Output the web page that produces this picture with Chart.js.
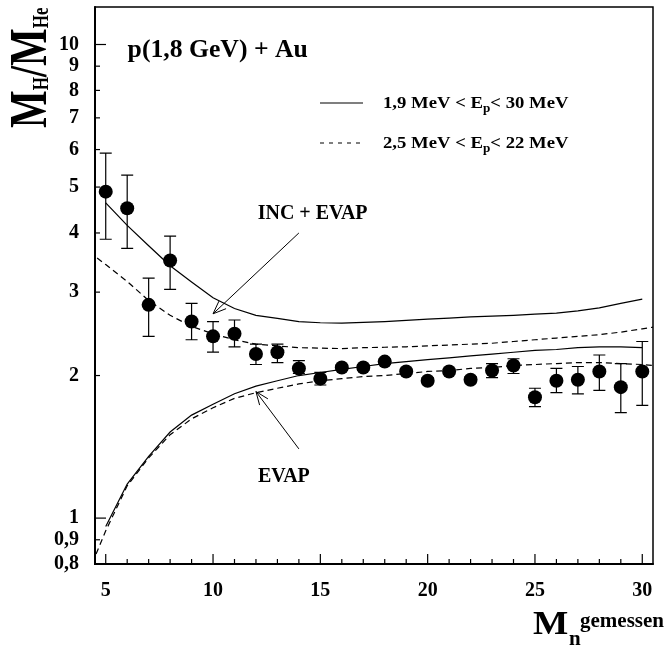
<!DOCTYPE html>
<html>
<head>
<meta charset="utf-8">
<script src="https://cdn.jsdelivr.net/npm/chart.js@4/dist/chart.umd.min.js"></script>
<style>
html,body{margin:0;padding:0;background:#fff;}
#wrap{width:672px;height:647px;position:relative;}
</style>
</head>
<body>
<div id="wrap"><canvas id="c" width="672" height="647"></canvas></div>
<script>
// ---- data ----
const mnValues    = [5,6,7,8,9,10,11,12,13,14,15,16,17,18,19,20,21,22,23,24,25,26,27,28,29,30];
const ratioValues = [4.89,4.51,2.82,3.50,2.60,2.42,2.45,2.22,2.24,2.07,1.97,2.08,2.08,2.14,2.04,1.95,2.04,1.96,2.05,2.10,1.80,1.95,1.96,2.04,1.89,2.04];
const errHigh     = [5.90,5.30,3.21,3.94,2.84,2.60,2.62,2.33,2.33,2.15,2.03,2.11,2.11,2.17,2.07,1.98,2.07,1.99,2.12,2.17,1.88,2.07,2.09,2.21,2.12,2.36];
const errLow      = [3.88,3.71,2.42,3.04,2.38,2.24,2.30,2.11,2.13,2.02,1.91,2.05,2.05,2.11,2.01,1.92,2.01,1.93,1.98,2.02,1.72,1.84,1.83,1.86,1.67,1.73];

// INC + EVAP, 1,9 MeV < Ep < 30 MeV (solid)
const incSolidX = [5,6,7,8,9,10,11,12,13,14,15,16,17,18,19,20,21,22,23,24,25,26,27,28,29,30];
const incSolidY = [4.63,4.15,3.76,3.41,3.15,2.92,2.77,2.68,2.64,2.60,2.585,2.58,2.59,2.60,2.615,2.63,2.645,2.66,2.67,2.68,2.695,2.71,2.74,2.78,2.84,2.90];
// INC + EVAP, 2,5 MeV < Ep < 22 MeV (dashed)
const incDashX = [4.6,5,6,7,8,9,10,11,12,13,14,15,16,17,18,19,20,21,22,23,24,25,26,27,28,29,30,30.5];
const incDashY = [3.54,3.43,3.16,2.88,2.68,2.54,2.45,2.38,2.33,2.31,2.29,2.285,2.28,2.29,2.295,2.30,2.31,2.32,2.33,2.34,2.36,2.38,2.40,2.42,2.44,2.47,2.51,2.53];
// EVAP, solid
const evapSolidX = [5,6,7,8,9,10,11,12,13,14,15,16,17,18,19,20,21,22,23,24,25,26,27,28,29,30];
const evapSolidY = [0.96,1.18,1.35,1.52,1.65,1.74,1.83,1.90,1.95,2.00,2.03,2.06,2.09,2.12,2.14,2.16,2.18,2.20,2.22,2.24,2.26,2.27,2.29,2.30,2.30,2.29];
// EVAP, dashed
const evapDashX = [4.55,5,6,7,8,9,10,11,12,13,14,15,16,17,18,19,20,21,22,23,24,25,26,27,28,29,30,30.5];
const evapDashY = [0.84,0.94,1.17,1.34,1.50,1.62,1.71,1.79,1.84,1.88,1.92,1.95,1.97,1.99,2.00,2.02,2.04,2.05,2.07,2.08,2.10,2.11,2.12,2.13,2.13,2.12,2.11,2.10];

const xTickValues = [5,10,15,20,25,30];
const xTickLabels = ['5','10','15','20','25','30'];
const yTickValues = [0.8,0.9,1,2,3,4,5,6,7,8,9,10];
const yTickLabels = ['0,8','0,9','1','2','3','4','5','6','7','8','9','10'];
const yMajorTicks = [1,10];

const legendLabels = [
  {pre:'1,9 MeV < E', sub:'p', post:'< 30 MeV', dash:[]},
  {pre:'2,5 MeV < E', sub:'p', post:'< 22 MeV', dash:[4,5]}
];

const SERIF = '"Liberation Serif", "Times New Roman", serif';
const CURVE_DASH = [6,4];

function pairs(xs, ys){ return xs.map((v,i)=>({x:v, y:ys[i]})); }
function curve(xs, ys, dash){
  return {type:'line', data:pairs(xs,ys), borderColor:'#000', borderWidth:1.2,
    borderDash:dash, pointRadius:0, tension:0, fill:false, order:2};
}

const errorBarPlugin = {
  id:'errorBars',
  beforeDatasetsDraw(chart){
    const {ctx, scales:{x,y}} = chart;
    ctx.save();
    ctx.strokeStyle='#000'; ctx.lineWidth=1.2;
    mnValues.forEach((m,i)=>{
      const px = x.getPixelForValue(m);
      const pHi = y.getPixelForValue(errHigh[i]);
      const pLo = y.getPixelForValue(errLow[i]);
      ctx.beginPath();
      ctx.moveTo(px,pHi); ctx.lineTo(px,pLo);
      ctx.moveTo(px-6,pHi); ctx.lineTo(px+6,pHi);
      ctx.moveTo(px-6,pLo); ctx.lineTo(px+6,pLo);
      ctx.stroke();
    });
    ctx.restore();
  }
};

function seg(ctx,x1,y1,x2,y2){ctx.beginPath();ctx.moveTo(x1,y1);ctx.lineTo(x2,y2);ctx.stroke();}
function arrow(ctx,x1,y1,x2,y2){
  seg(ctx,x1,y1,x2,y2);
  const ang = Math.atan2(y2-y1,x2-x1);
  const L = 14, w = 0.38;
  ctx.beginPath();
  ctx.moveTo(x2 - L*Math.cos(ang-w), y2 - L*Math.sin(ang-w));
  ctx.lineTo(x2,y2);
  ctx.lineTo(x2 - L*Math.cos(ang+w), y2 - L*Math.sin(ang+w));
  ctx.stroke();
}
// text drawn with a horizontal stretch factor; returns advance width
function textX(ctx, s, x, y, font, sx){
  ctx.save(); ctx.font = font; ctx.translate(x,y); ctx.scale(sx,1);
  ctx.fillText(s,0,0);
  const w = ctx.measureText(s).width*sx;
  ctx.restore();
  return w;
}

const decoPlugin = {
  id:'deco',
  afterDraw(chart){
    const {ctx, chartArea:a, scales:{x,y}} = chart;
    ctx.save();
    ctx.strokeStyle='#000'; ctx.fillStyle='#000';
    // frame
    ctx.lineWidth=1.5;
    ctx.strokeRect(a.left, a.top, a.right-a.left, a.bottom-a.top);
    ctx.lineWidth=2;
    seg(ctx,a.left,a.top-0.75,a.left,a.bottom+1);
    seg(ctx,a.left-1,a.bottom,a.right+0.75,a.bottom);
    // x ticks (inward)
    ctx.lineWidth=1.2;
    for(let v=Math.ceil(x.min); v<=x.max; v++){
      const px = x.getPixelForValue(v);
      const len = xTickValues.includes(v) ? 10 : 5;
      seg(ctx,px,a.bottom,px,a.bottom-len);
    }
    // y ticks (inward)
    yTickValues.forEach(v=>{
      const py = y.getPixelForValue(v);
      const len = yMajorTicks.includes(v) ? 11 : 5;
      seg(ctx,a.left,py,a.left+len,py);
    });

    // annotation texts and arrows (placed in data coordinates)
    ctx.lineWidth=1;
    arrow(ctx, x.getPixelForValue(14), y.getPixelForValue(4.0), x.getPixelForValue(10), y.getPixelForValue(2.70));
    arrow(ctx, x.getPixelForValue(14), y.getPixelForValue(1.40), x.getPixelForValue(12), y.getPixelForValue(1.85));
    ctx.textBaseline='alphabetic';
    ctx.font = 'bold 20px '+SERIF;
    ctx.textAlign='center';
    ctx.fillText('INC + EVAP', x.getPixelForValue(14.64), y.getPixelForValue(4.28));
    ctx.fillText('EVAP', x.getPixelForValue(13.3), y.getPixelForValue(1.192));
    ctx.textAlign='left';
    ctx.font = 'bold 25.7px '+SERIF;
    ctx.fillText('p(1,8 GeV) + Au', x.getPixelForValue(6.02), y.getPixelForValue(9.4));

    // legend
    legendLabels.forEach((it,i)=>{
      const ly = a.top + 96 + i*40;
      ctx.setLineDash(it.dash); ctx.lineWidth=1.2;
      seg(ctx, a.left+225, ly, a.left+268, ly);
      ctx.setLineDash([]);
      let tx = a.left + 288;
      const by = ly + 5;
      tx += textX(ctx, it.pre, tx, by, 'bold 17px '+SERIF, 1.1);
      tx += textX(ctx, it.sub, tx, by+4, 'bold 12px '+SERIF, 1.1);
      textX(ctx, it.post, tx, by, 'bold 17px '+SERIF, 1.1);
    });

    // x axis title: M_n^gemessen
    {
      const bx = a.right - 120, by = a.bottom + 70;
      textX(ctx, 'M', bx, by, 'bold 34px '+SERIF, 1.1);
      ctx.font='bold 21px '+SERIF; ctx.fillText('n', bx+36, by+11);
      ctx.font='bold 21px '+SERIF; ctx.fillText('gemessen', bx+47, by-7);
    }
    // y axis title: M_H/M_He (rotated)
    {
      ctx.save();
      ctx.translate(a.left-49, a.top+121);
      ctx.rotate(-Math.PI/2);
      ctx.scale(1,1.3);
      let tx=0;
      const big='bold 40px '+SERIF, small='bold 17px '+SERIF;
      ctx.font=big; ctx.fillText('M',tx,0); tx+=ctx.measureText('M').width;
      ctx.font=small; ctx.fillText('H',tx,1.5); tx+=ctx.measureText('H').width;
      ctx.font=big; ctx.fillText('/',tx,0); tx+=ctx.measureText('/').width;
      ctx.fillText('M',tx,0); tx+=ctx.measureText('M').width;
      ctx.font=small; ctx.fillText('He',tx,1.5);
      ctx.restore();
    }
    ctx.restore();
  }
};

const tickFont = {family:SERIF, size:20, weight:'bold'};

new Chart(document.getElementById('c'), {
  type:'scatter',
  data:{
    datasets:[
      {type:'scatter', data:pairs(mnValues, ratioValues), pointRadius:7, pointHoverRadius:7,
       backgroundColor:'#000', borderColor:'#000', borderWidth:0, order:0},
      curve(incSolidX, incSolidY, []),
      curve(incDashX, incDashY, CURVE_DASH),
      curve(evapSolidX, evapSolidY, []),
      curve(evapDashX, evapDashY, CURVE_DASH)
    ]
  },
  options:{
    responsive:false, animation:false, devicePixelRatio:1,
    layout:{padding:{top:6, right:19, left:0, bottom:0}},
    plugins:{legend:{display:false}, tooltip:{enabled:false}},
    events:[],
    scales:{
      x:{type:'linear', min:4.5, max:30.5,
        afterBuildTicks:(s)=>{ s.ticks = xTickValues.map(v=>({value:v})); },
        afterFit:(s)=>{ s.height = 83; s.paddingLeft = 0; s.paddingRight = 0; },
        grid:{display:false, drawTicks:false}, border:{display:false},
        ticks:{font:tickFont, color:'#000', padding:15, maxRotation:0, autoSkip:false,
          callback:(v,i)=>xTickLabels[i]}
      },
      y:{type:'logarithmic', min:0.8, max:12,
        afterBuildTicks:(s)=>{ s.ticks = yTickValues.map(v=>({value:v})); },
        afterFit:(s)=>{ s.width = 95; s.paddingTop = 0; s.paddingBottom = 0; },
        grid:{display:false, drawTicks:false}, border:{display:false},
        ticks:{font:tickFont, color:'#000', padding:16, autoSkip:false,
          callback:(v,i)=>yTickLabels[i]}
      }
    }
  },
  plugins:[errorBarPlugin, decoPlugin]
});
</script>
</body>
</html>
